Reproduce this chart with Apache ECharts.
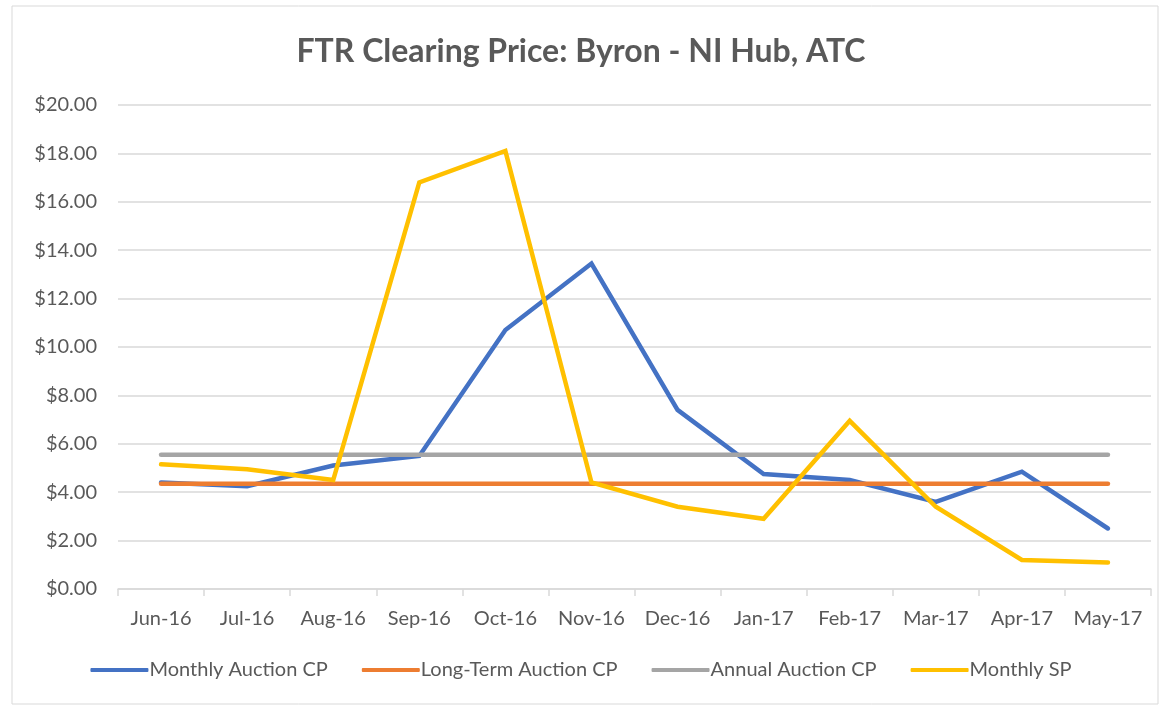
<!DOCTYPE html>
<html>
<head>
<meta charset="utf-8">
<script src="https://cdn.jsdelivr.net/npm/echarts@6/dist/echarts.min.js"></script>
<style>
  html, body { margin: 0; padding: 0; background: #fff; }
  #chart { width: 1162px; height: 709px; }
</style>
</head>
<body>
<div id="chart"></div>
<script>
// categories and series
const months = ['Jun-16', 'Jul-16', 'Aug-16', 'Sep-16', 'Oct-16', 'Nov-16',
  'Dec-16', 'Jan-17', 'Feb-17', 'Mar-17', 'Apr-17', 'May-17']
const monthlyAuctionCP = [4.4, 4.25, 5.1, 5.5, 10.7, 13.45, 7.4, 4.75, 4.5, 3.6, 4.85, 2.5]
const longTermAuctionCP = [4.35, 4.35, 4.35, 4.35, 4.35, 4.35, 4.35, 4.35, 4.35, 4.35, 4.35, 4.35]
const annualAuctionCP = [5.55, 5.55, 5.55, 5.55, 5.55, 5.55, 5.55, 5.55, 5.55, 5.55, 5.55, 5.55]
const monthlySP = [5.15, 4.95, 4.5, 16.8, 18.1, 4.4, 3.4, 2.9, 6.95, 3.4, 1.2, 1.1]

const font = 'Lato, "Open Sans", sans-serif'
const textColor = '#595959'

const chart = echarts.init(document.getElementById('chart'))

const mkLine = (name, data, color) => ({
  name,
  type: 'line',
  data,
  symbol: 'none',
  lineStyle: { width: 4.5, color, cap: 'round', join: 'miter' },
  itemStyle: { color },
  z: 2
})

chart.setOption({
  animation: false,
  graphic: [{
    type: 'rect',
    shape: { x: 12, y: 6, width: 1146, height: 698 },
    style: { fill: 'none', stroke: '#d9d9d9', lineWidth: 1 }
  }],
  title: {
    text: 'FTR Clearing Price: Byron - NI Hub, ATC',
    left: 'center',
    top: 31,
    textStyle: { fontFamily: font, fontSize: 32, fontWeight: 'bold', color: textColor }
  },
  legend: {
    bottom: 24,
    left: 'center',
    itemWidth: 58,
    itemHeight: 4,
    itemGap: 34,
    icon: 'roundRect',
    textStyle: { fontFamily: font, fontSize: 20, color: textColor, padding: [0, 0, 0, -4] }
  },
  grid: { left: 118, right: 11, top: 105, bottom: 120 },
  xAxis: {
    type: 'category',
    data: months,
    boundaryGap: true,
    axisLine: { lineStyle: { color: '#d9d9d9', width: 1.5 } },
    axisTick: { show: true, length: 7, lineStyle: { color: '#d9d9d9', width: 1.5 } },
    axisLabel: { interval: 0, fontFamily: font, fontSize: 20, color: textColor, margin: 20 }
  },
  yAxis: {
    type: 'value',
    min: 0,
    max: 20,
    interval: 2,
    axisLine: { show: false },
    axisTick: { show: false },
    splitLine: { lineStyle: { color: '#d9d9d9', width: 1.5 } },
    axisLabel: {
      fontFamily: font, fontSize: 20, color: textColor, margin: 21,
      formatter: v => '$' + v.toFixed(2)
    }
  },
  series: [
    mkLine('Monthly Auction CP', monthlyAuctionCP, '#4472c4'),
    mkLine('Long-Term Auction CP', longTermAuctionCP, '#ed7d31'),
    mkLine('Annual Auction CP', annualAuctionCP, '#a5a5a5'),
    mkLine('Monthly SP', monthlySP, '#ffc000')
  ]
})
</script>
</body>
</html>
